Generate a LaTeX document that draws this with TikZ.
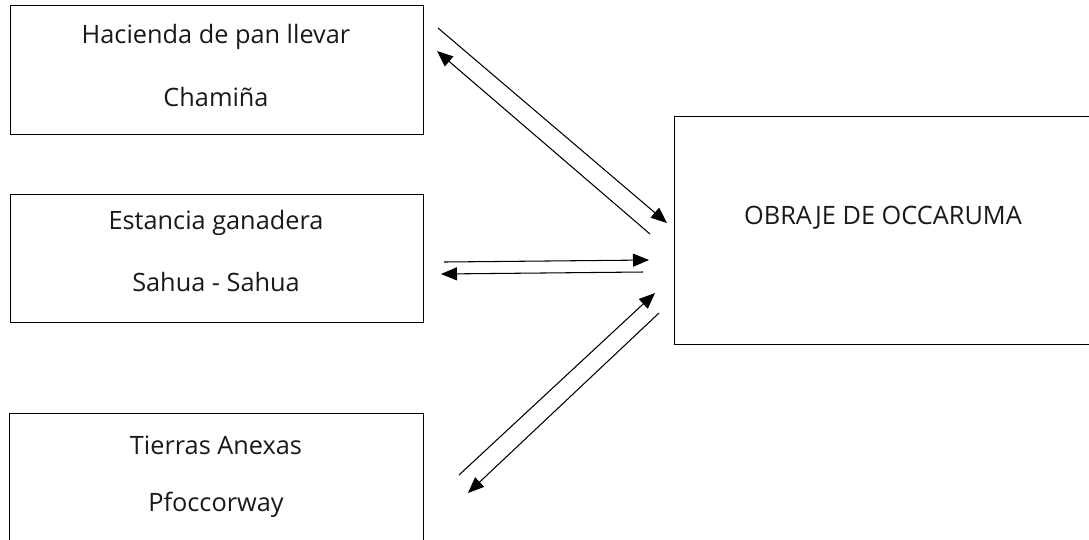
\documentclass[tikz,border=0pt]{standalone}
\usepackage{fontspec}
\setmainfont{Open Sans}
\usetikzlibrary{arrows.meta}

\begin{document}
\begin{tikzpicture}[x=0.02cm, y=-0.02cm,
  box/.style={draw, line width=0.8pt, anchor=north west, inner sep=0pt},
  lbl/.style={font=\fontsize{14.4}{17}\selectfont, text=black!90},
  flow/.style={-{Triangle[length=0.32cm, width=0.26cm]}, line width=0.6pt}]
  \useasboundingbox (0,0) rectangle (1089,539);
  \clip (0,0) rectangle (1089,539);
  % boxes
  \node[box, minimum width=8.26cm, minimum height=2.58cm] (chaminia) at (10,5) {};
  \node[box, minimum width=8.26cm, minimum height=2.56cm] (sahua) at (10,194) {};
  \node[box, minimum width=8.28cm, minimum height=2.8cm] (pfocc) at (9,413) {};
  \node[box, minimum width=8.6cm, minimum height=4.56cm] (obraje) at (674,116) {};
  % texts
  \node[lbl] (chaminia-a) at (216,37) {Hacienda de pan llevar};
  \node[lbl] (chaminia-b) at (216,97) {Chamiña};
  \node[lbl] (sahua-a) at (216,223) {Estancia ganadera};
  \node[lbl] (sahua-b) at (216,282) {Sahua - Sahua};
  \node[lbl] (pfocc-a) at (216,445) {Tierras Anexas};
  \node[lbl] (pfocc-b) at (216,505) {Pfoccorway};
  \node[lbl] (obraje-t) at (883,218) {OBRAJE DE OCCARUMA};
  % arrow ends
  \coordinate (c1s) at (438,28);  \coordinate (c1e) at (667,223);
  \coordinate (c2s) at (650,234); \coordinate (c2e) at (437,51);
  \coordinate (s1s) at (444,262); \coordinate (s1e) at (649,260);
  \coordinate (s2s) at (643,272); \coordinate (s2e) at (441,274);
  \coordinate (p1s) at (459,475); \coordinate (p1e) at (655,293);
  \coordinate (p2s) at (659,313); \coordinate (p2e) at (468,493);
  \foreach \a/\b in {c1s/c1e, c2s/c2e, s1s/s1e, s2s/s2e, p1s/p1e, p2s/p2e}
    \draw[flow] (\a) -- (\b);
\end{tikzpicture}
\end{document}
